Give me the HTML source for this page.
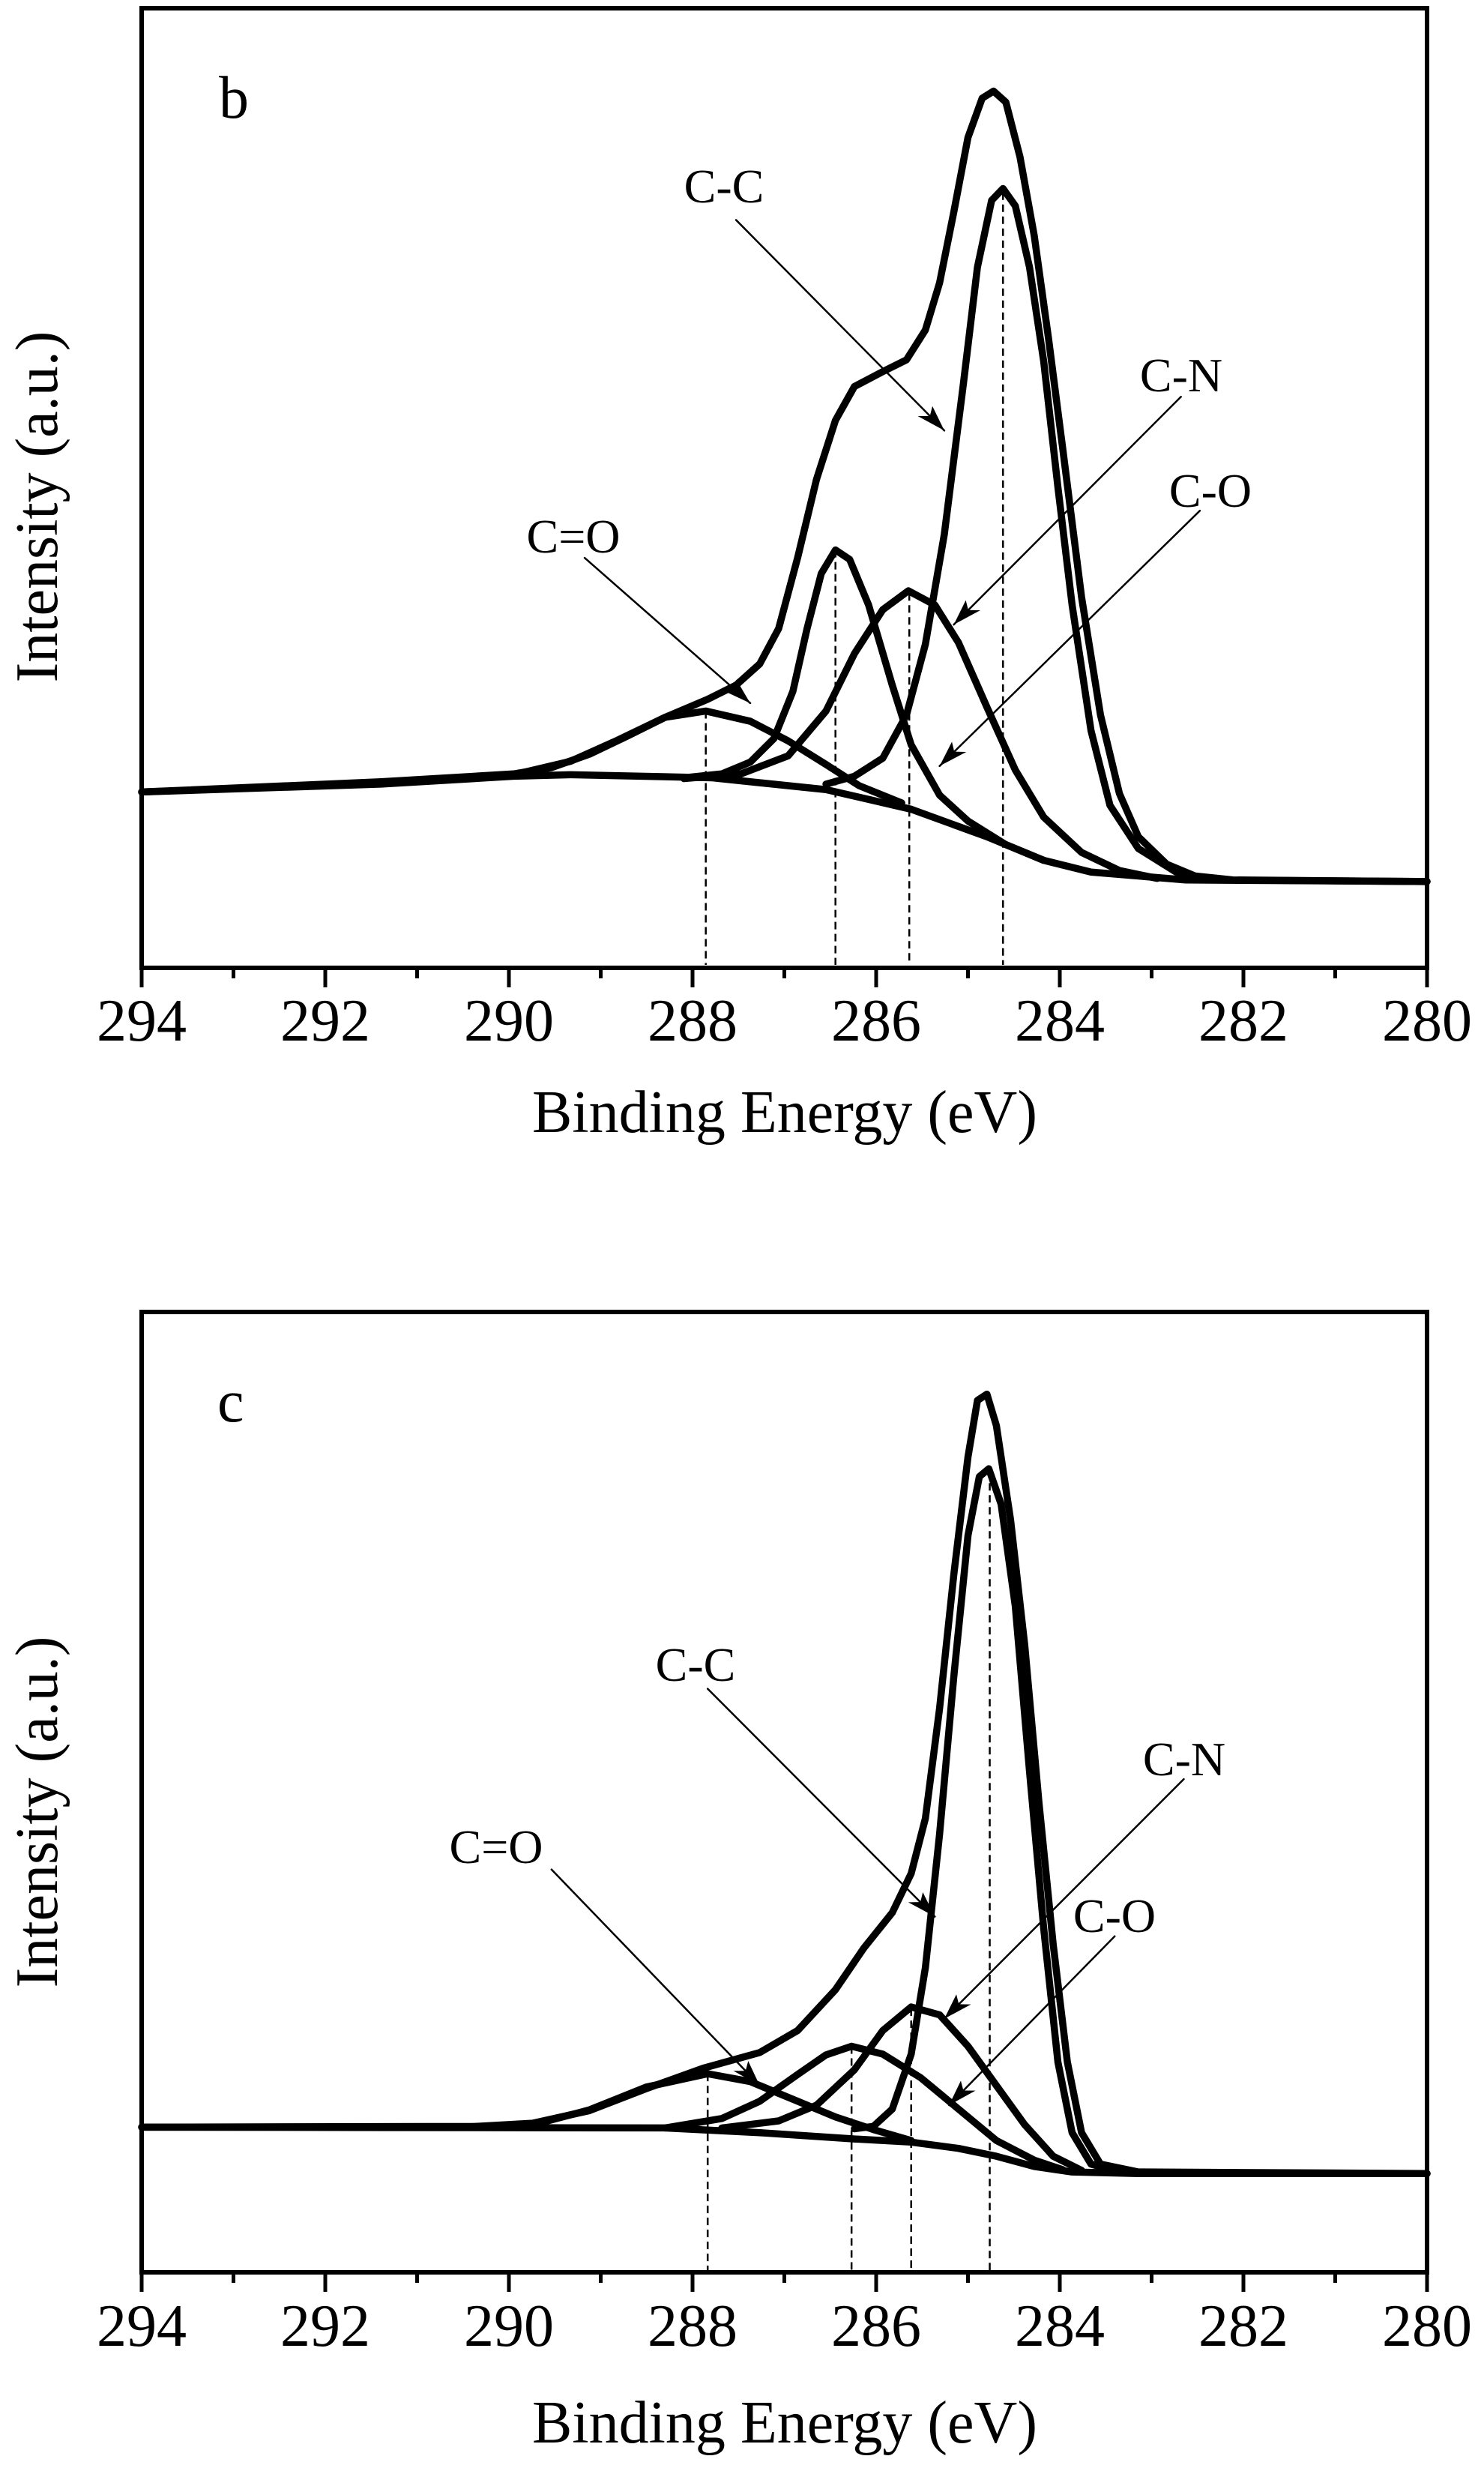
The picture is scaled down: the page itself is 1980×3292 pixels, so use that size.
<!DOCTYPE html>
<html><head><meta charset="utf-8"><style>
html,body{margin:0;padding:0;background:#fff;}
svg{display:block;}
text{font-family:"Liberation Serif","Times New Roman",serif;fill:#000;}
</style></head><body>
<svg width="1980" height="3292" viewBox="0 0 1980 3292" xmlns="http://www.w3.org/2000/svg">
<defs>
<marker id="ah" viewBox="0 0 10 10" refX="10" refY="5" markerWidth="32" markerHeight="20" markerUnits="userSpaceOnUse" orient="auto" preserveAspectRatio="none">
<path d="M0,0 L10,5 L0,10 L2.5,5 Z" fill="#000"/>
</marker>
</defs>

<!-- ========== TOP PLOT (b) ========== -->
<rect x="189" y="11" width="1715" height="1280" fill="none" stroke="#000" stroke-width="6"/>
<g stroke="#000" stroke-width="5">
<line x1="189" y1="1291" x2="189" y2="1317"/><line x1="434" y1="1291" x2="434" y2="1317"/><line x1="679" y1="1291" x2="679" y2="1317"/><line x1="924" y1="1291" x2="924" y2="1317"/><line x1="1169" y1="1291" x2="1169" y2="1317"/><line x1="1414" y1="1291" x2="1414" y2="1317"/><line x1="1659" y1="1291" x2="1659" y2="1317"/><line x1="1904" y1="1291" x2="1904" y2="1317"/>
<line x1="311.5" y1="1291" x2="311.5" y2="1305"/><line x1="556.5" y1="1291" x2="556.5" y2="1305"/><line x1="801.5" y1="1291" x2="801.5" y2="1305"/><line x1="1046.5" y1="1291" x2="1046.5" y2="1305"/><line x1="1291.5" y1="1291" x2="1291.5" y2="1305"/><line x1="1536.5" y1="1291" x2="1536.5" y2="1305"/><line x1="1781.5" y1="1291" x2="1781.5" y2="1305"/>
</g>
<g font-size="80" text-anchor="middle">
<text x="189" y="1388">294</text><text x="434" y="1388">292</text><text x="679" y="1388">290</text><text x="924" y="1388">288</text><text x="1169" y="1388">286</text><text x="1414" y="1388">284</text><text x="1659" y="1388">282</text><text x="1904" y="1388">280</text>
<text x="1047" y="1510">Binding Energy (eV)</text>
<text transform="translate(76,676) rotate(-90)">Intensity (a.u.)</text>
</g>
<text x="292" y="157" font-size="80">b</text>
<g font-size="64" text-anchor="middle">
<text x="966" y="270">C-C</text>
<text x="1576" y="522">C-N</text>
<text x="1615" y="676">C-O</text>
<text x="765" y="737">C=O</text>
</g>

<g transform="matrix(1.2629 0 0 1.048 3.35 0)" fill="none" stroke="#000" stroke-linejoin="round" stroke-linecap="round">
<g stroke-width="2.5" stroke-dasharray="10,6" stroke-linecap="butt">
<line vector-effect="non-scaling-stroke" x1="743" y1="905" x2="743" y2="1228"/>
<line vector-effect="non-scaling-stroke" x1="880" y1="700" x2="880" y2="1228"/>
<line vector-effect="non-scaling-stroke" x1="958" y1="755" x2="958" y2="1228"/>
<line vector-effect="non-scaling-stroke" x1="1057" y1="245" x2="1057" y2="1228"/>
</g>
<g stroke-width="9.5">
<polyline vector-effect="non-scaling-stroke" points="147,1008 400,998 540,988 600,986 750,990 870,1005 960,1030 1040,1065 1100,1095 1150,1110 1250,1120 1505,1122"/>
<polyline vector-effect="non-scaling-stroke" points="147,1008 400,995 540,985 580,977 620,960 660,937 700,913 745,890 775,872 800,845 820,800 840,710 860,610 880,535 900,492 930,473 955,458 975,420 990,360 1005,270 1020,175 1035,125 1047,116 1060,130 1075,200 1090,300 1105,430 1120,570 1140,760 1160,910 1180,1010 1200,1065 1230,1100 1260,1115 1300,1120 1505,1122"/>
<polyline vector-effect="non-scaling-stroke" points="870,998 900,988 930,965 955,910 975,820 995,680 1015,490 1030,340 1045,255 1057,240 1070,262 1085,340 1100,460 1115,620 1130,770 1150,930 1170,1025 1200,1080 1240,1110 1280,1120"/>
<polyline vector-effect="non-scaling-stroke" points="540,986 600,969 650,942 700,913 743,905 790,918 830,943 870,973 905,1000 950,1022"/>
<polyline vector-effect="non-scaling-stroke" points="720,990 760,985 790,970 815,940 835,880 850,800 865,730 880,700 895,712 915,770 940,872 960,948 990,1012 1020,1045 1060,1075 1100,1095"/>
<polyline vector-effect="non-scaling-stroke" points="720,991 780,985 830,962 870,905 900,832 930,776 957,752 985,770 1010,818 1040,900 1070,980 1100,1040 1140,1085 1180,1108 1220,1118"/>
</g>
<g stroke-width="2.5">
<line vector-effect="non-scaling-stroke" x1="775" y1="280" x2="995" y2="548" marker-end="url(#ah)"/>
<line vector-effect="non-scaling-stroke" x1="1245" y1="505" x2="1005" y2="795" marker-end="url(#ah)"/>
<line vector-effect="non-scaling-stroke" x1="1265" y1="650" x2="990" y2="975" marker-end="url(#ah)"/>
<line vector-effect="non-scaling-stroke" x1="615" y1="710" x2="790" y2="895" marker-end="url(#ah)"/>
</g>
</g>

<!-- ========== BOTTOM PLOT (c) ========== -->
<rect x="189" y="1750" width="1715" height="1281" fill="none" stroke="#000" stroke-width="6"/>
<g stroke="#000" stroke-width="5">
<line x1="189" y1="3031" x2="189" y2="3057"/><line x1="434" y1="3031" x2="434" y2="3057"/><line x1="679" y1="3031" x2="679" y2="3057"/><line x1="924" y1="3031" x2="924" y2="3057"/><line x1="1169" y1="3031" x2="1169" y2="3057"/><line x1="1414" y1="3031" x2="1414" y2="3057"/><line x1="1659" y1="3031" x2="1659" y2="3057"/><line x1="1904" y1="3031" x2="1904" y2="3057"/>
<line x1="311.5" y1="3031" x2="311.5" y2="3045"/><line x1="556.5" y1="3031" x2="556.5" y2="3045"/><line x1="801.5" y1="3031" x2="801.5" y2="3045"/><line x1="1046.5" y1="3031" x2="1046.5" y2="3045"/><line x1="1291.5" y1="3031" x2="1291.5" y2="3045"/><line x1="1536.5" y1="3031" x2="1536.5" y2="3045"/><line x1="1781.5" y1="3031" x2="1781.5" y2="3045"/>
</g>
<g font-size="80" text-anchor="middle">
<text x="189" y="3129">294</text><text x="434" y="3129">292</text><text x="679" y="3129">290</text><text x="924" y="3129">288</text><text x="1169" y="3129">286</text><text x="1414" y="3129">284</text><text x="1659" y="3129">282</text><text x="1904" y="3129">280</text>
<text x="1047" y="3258">Binding Energy (eV)</text>
<text transform="translate(76,2417) rotate(-90)">Intensity (a.u.)</text>
</g>
<text x="290" y="1896" font-size="80">c</text>
<g font-size="64" text-anchor="middle">
<text x="928" y="2242">C-C</text>
<text x="1580" y="2368">C-N</text>
<text x="1487" y="2577">C-O</text>
<text x="662" y="2485">C=O</text>
</g>

<g transform="matrix(1.2629 0 0 1.048 3.35 1650)" fill="none" stroke="#000" stroke-linejoin="round" stroke-linecap="round">
<g stroke-width="2.5" stroke-dasharray="10,6" stroke-linecap="butt">
<line vector-effect="non-scaling-stroke" x1="745" y1="1065" x2="745" y2="1318"/>
<line vector-effect="non-scaling-stroke" x1="897" y1="1030" x2="897" y2="1318"/>
<line vector-effect="non-scaling-stroke" x1="960" y1="982" x2="960" y2="1318"/>
<line vector-effect="non-scaling-stroke" x1="1043" y1="298" x2="1043" y2="1318"/>
</g>
<g stroke-width="9.5">
<polyline vector-effect="non-scaling-stroke" points="147,1133 700,1134 800,1140 900,1148 960,1152 1010,1160 1050,1170 1090,1183 1130,1190 1200,1192 1505,1192"/>
<polyline vector-effect="non-scaling-stroke" points="147,1133 500,1132 560,1128 620,1112 680,1084 740,1058 800,1038 840,1010 880,958 910,905 940,860 960,810 975,740 990,600 1005,430 1020,280 1030,208 1040,200 1050,240 1065,360 1080,520 1095,720 1110,900 1125,1050 1140,1140 1160,1180 1200,1190 1505,1192"/>
<polyline vector-effect="non-scaling-stroke" points="900,1135 920,1132 940,1110 960,1040 975,930 990,760 1005,560 1020,380 1032,305 1042,295 1055,340 1070,470 1085,680 1100,880 1115,1050 1130,1140 1150,1180 1180,1190"/>
<polyline vector-effect="non-scaling-stroke" points="480,1133 560,1130 620,1111 680,1082 745,1065 790,1075 840,1100 880,1120 920,1136 960,1150"/>
<polyline vector-effect="non-scaling-stroke" points="700,1134 760,1122 800,1100 840,1066 870,1041 897,1030 930,1040 970,1070 1010,1110 1050,1150 1090,1175 1120,1187"/>
<polyline vector-effect="non-scaling-stroke" points="760,1134 820,1125 860,1105 900,1060 930,1010 960,980 990,990 1020,1030 1050,1080 1080,1130 1110,1170 1140,1188"/>
</g>
<g stroke-width="2.5">
<line vector-effect="non-scaling-stroke" x1="745" y1="575" x2="985" y2="865" marker-end="url(#ah)"/>
<line vector-effect="non-scaling-stroke" x1="1248" y1="690" x2="995" y2="995" marker-end="url(#ah)"/>
<line vector-effect="non-scaling-stroke" x1="1175" y1="890" x2="1000" y2="1105" marker-end="url(#ah)"/>
<line vector-effect="non-scaling-stroke" x1="580" y1="805" x2="800" y2="1080" marker-end="url(#ah)"/>
</g>
</g>
</svg>
</body></html>
